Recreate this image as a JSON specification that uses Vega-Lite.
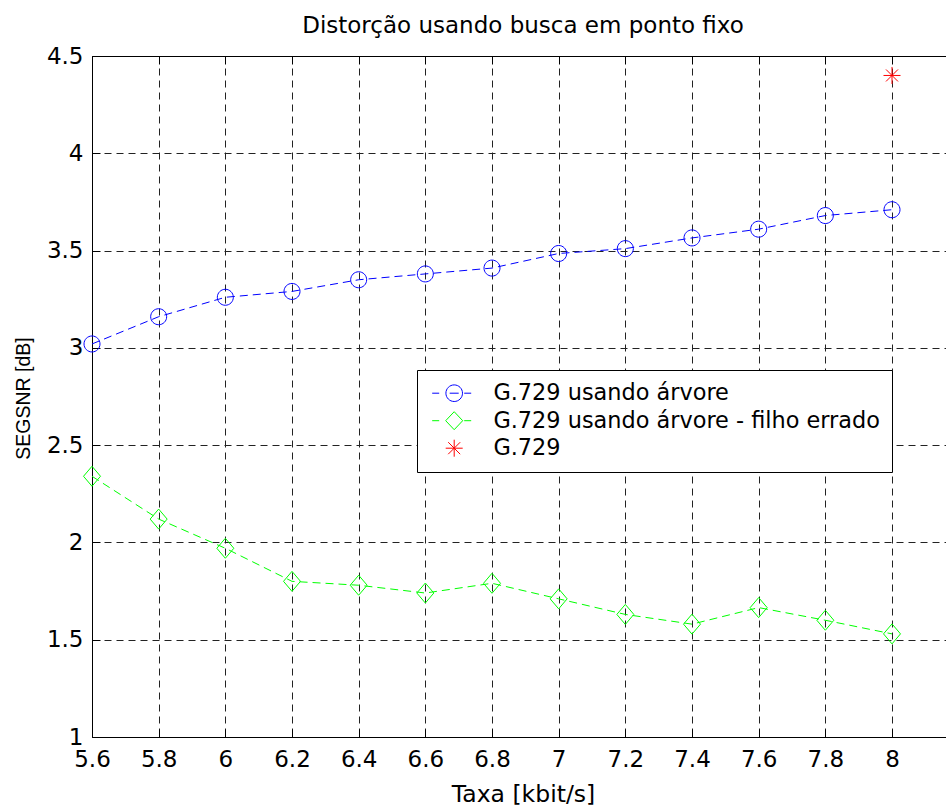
{
  "$schema": "https://vega.github.io/schema/vega-lite/v6.json",
  "width": 854,
  "height": 681,
  "autosize": {"type": "none"},
  "padding": {"left": 92, "top": 56, "right": 0, "bottom": 70},
  "background": "white",
  "config": {
    "view": {"stroke": null},
    "font": "DejaVu Sans"
  },
  "title": {
    "text": "Distorção usando busca em ponto fixo",
    "font": "DejaVu Sans",
    "fontSize": 23,
    "fontWeight": "normal",
    "color": "black",
    "baseline": "alphabetic",
    "offset": 23,
    "dx": 4,
    "dy": 34
  },
  "data": {
    "values": [
      {"x": 5.6, "y": 3.02, "series": "G.729 usando árvore"},
      {"x": 5.8, "y": 3.16, "series": "G.729 usando árvore"},
      {"x": 6.0, "y": 3.26, "series": "G.729 usando árvore"},
      {"x": 6.2, "y": 3.29, "series": "G.729 usando árvore"},
      {"x": 6.4, "y": 3.35, "series": "G.729 usando árvore"},
      {"x": 6.6, "y": 3.38, "series": "G.729 usando árvore"},
      {"x": 6.8, "y": 3.41, "series": "G.729 usando árvore"},
      {"x": 7.0, "y": 3.485, "series": "G.729 usando árvore"},
      {"x": 7.2, "y": 3.51, "series": "G.729 usando árvore"},
      {"x": 7.4, "y": 3.565, "series": "G.729 usando árvore"},
      {"x": 7.6, "y": 3.61, "series": "G.729 usando árvore"},
      {"x": 7.8, "y": 3.68, "series": "G.729 usando árvore"},
      {"x": 8.0, "y": 3.71, "series": "G.729 usando árvore"},
      {"x": 5.6, "y": 2.34, "series": "G.729 usando árvore - filho errado"},
      {"x": 5.8, "y": 2.12, "series": "G.729 usando árvore - filho errado"},
      {"x": 6.0, "y": 1.97, "series": "G.729 usando árvore - filho errado"},
      {"x": 6.2, "y": 1.8, "series": "G.729 usando árvore - filho errado"},
      {"x": 6.4, "y": 1.78, "series": "G.729 usando árvore - filho errado"},
      {"x": 6.6, "y": 1.74, "series": "G.729 usando árvore - filho errado"},
      {"x": 6.8, "y": 1.79, "series": "G.729 usando árvore - filho errado"},
      {"x": 7.0, "y": 1.71, "series": "G.729 usando árvore - filho errado"},
      {"x": 7.2, "y": 1.63, "series": "G.729 usando árvore - filho errado"},
      {"x": 7.4, "y": 1.58, "series": "G.729 usando árvore - filho errado"},
      {"x": 7.6, "y": 1.665, "series": "G.729 usando árvore - filho errado"},
      {"x": 7.8, "y": 1.6, "series": "G.729 usando árvore - filho errado"},
      {"x": 8.0, "y": 1.53, "series": "G.729 usando árvore - filho errado"},
      {"x": 8.0, "y": 4.4, "series": "G.729"}
    ]
  },
  "resolve": {"axis": {"x": "independent"}},
  "layer": [
    {
      "transform": [{"filter": "datum.series !== 'G.729'"}],
      "mark": {"type": "line", "strokeWidth": 1, "strokeDash": [8, 5]},
      "encoding": {
        "x": {
          "field": "x",
          "type": "quantitative",
          "scale": {"domain": [5.6, 8.162], "nice": false, "zero": false},
          "axis": {
            "orient": "bottom",
            "values": [5.6, 5.8, 6.0, 6.2, 6.4, 6.6, 6.8, 7.0, 7.2, 7.4, 7.6, 7.8, 8.0],
            "format": "~g",
            "grid": true,
            "gridDash": [7, 5],
            "gridColor": "#222222",
            "gridWidth": 1,
            "gridOpacity": 1,
            "domain": true,
            "domainColor": "black",
            "domainWidth": 1,
            "ticks": true,
            "tickSize": -8,
            "tickColor": "black",
            "tickWidth": 1,
            "labelFont": "DejaVu Sans",
            "labelFontSize": 23,
            "labelColor": "black",
            "labelPadding": 19,
            "labelFlush": false,
            "labelOverlap": false,
            "title": "Taxa [kbit/s]",
            "titleFont": "DejaVu Sans",
            "titleFontSize": 23.5,
            "titleFontWeight": "normal",
            "titleColor": "black",
            "titleAlign": "center",
            "titleBaseline": "alphabetic",
            "titleX": 431,
            "titleY": 64
          }
        },
        "y": {
          "field": "y",
          "type": "quantitative",
          "scale": {"domain": [1, 4.5], "nice": false, "zero": false},
          "axis": {
            "values": [1, 1.5, 2, 2.5, 3, 3.5, 4, 4.5],
            "format": "~g",
            "grid": true,
            "gridDash": [7, 5],
            "gridColor": "#222222",
            "gridWidth": 1,
            "gridOpacity": 1,
            "domain": true,
            "domainColor": "black",
            "domainWidth": 1,
            "ticks": true,
            "tickSize": -8,
            "tickColor": "black",
            "tickWidth": 1,
            "labelFont": "DejaVu Sans",
            "labelFontSize": 23,
            "labelColor": "black",
            "labelPadding": 17,
            "labelFlush": false,
            "labelOverlap": false,
            "title": "SEGSNR [dB]",
            "titleFont": "Liberation Sans",
            "titleFontSize": 19.5,
            "titleFontWeight": "normal",
            "titleColor": "black",
            "titleAngle": -90,
            "titleAlign": "center",
            "titleBaseline": "alphabetic",
            "titleX": -63,
            "titleY": 342
          }
        },
        "color": {
          "field": "series",
          "type": "nominal",
          "scale": {
            "domain": ["G.729 usando árvore", "G.729 usando árvore - filho errado", "G.729"],
            "range": ["#0000ff", "#00ff00", "#ff0000"]
          }
        }
      }
    },
    {
      "transform": [{"filter": "datum.series === 'G.729 usando árvore'"}],
      "mark": {
        "type": "point",
        "filled": false,
        "strokeWidth": 1,
        "size": 400,
        "opacity": 1,
        "shape": "M0.8,0A0.8,0.8,0,1,1,-0.8,0A0.8,0.8,0,1,1,0.8,0Z"
      },
      "encoding": {
        "x": {
          "field": "x",
          "type": "quantitative",
          "axis": {
            "orient": "top",
            "values": [5.6, 5.8, 6.0, 6.2, 6.4, 6.6, 6.8, 7.0, 7.2, 7.4, 7.6, 7.8, 8.0],
            "labels": false,
            "grid": false,
            "domain": true,
            "domainColor": "black",
            "domainWidth": 1,
            "ticks": true,
            "tickSize": -8,
            "tickColor": "black",
            "tickWidth": 1,
            "title": null
          }
        },
        "y": {"field": "y", "type": "quantitative"},
        "color": {"field": "series", "type": "nominal"}
      }
    },
    {
      "transform": [{"filter": "datum.series === 'G.729 usando árvore - filho errado'"}],
      "mark": {
        "type": "point",
        "filled": false,
        "strokeWidth": 1,
        "size": 400,
        "opacity": 1,
        "shape": "M0,-1L0.85,0L0,1L-0.85,0Z"
      },
      "encoding": {
        "x": {"field": "x", "type": "quantitative", "axis": null},
        "y": {"field": "y", "type": "quantitative"},
        "color": {"field": "series", "type": "nominal"}
      }
    },
    {
      "transform": [{"filter": "datum.series === 'G.729'"}],
      "mark": {
        "type": "point",
        "filled": false,
        "strokeWidth": 1,
        "size": 400,
        "opacity": 1,
        "shape": "M-0.85,0L0.85,0M0,-0.85L0,0.85M-0.6,-0.6L0.6,0.6M-0.6,0.6L0.6,-0.6"
      },
      "encoding": {
        "x": {"field": "x", "type": "quantitative", "axis": null},
        "y": {"field": "y", "type": "quantitative"},
        "color": {"field": "series", "type": "nominal"}
      }
    },
    {
      "transform": [{"filter": "false"}],
      "mark": {"type": "point", "filled": false, "strokeWidth": 1, "size": 400, "opacity": 1},
      "encoding": {
        "x": {"field": "x", "type": "quantitative", "axis": null},
        "y": {"field": "y", "type": "quantitative"},
        "color": {
          "field": "series",
          "type": "nominal",
          "legend": {
            "orient": "none",
            "legendX": 325,
            "legendY": 314,
            "title": null,
            "padding": 12,
            "strokeColor": "black",
            "fillColor": "white",
            "symbolSize": 400,
            "symbolStrokeWidth": 1,
            "symbolDash": [100, 0],
            "symbolOffset": 14,
            "labelOffset": 28,
            "labelFont": "DejaVu Sans",
            "labelFontSize": 22.4,
            "labelColor": "black",
            "labelLimit": 1000,
            "rowPadding": 4.5
          }
        },
        "shape": {
          "field": "series",
          "type": "nominal",
          "scale": {
            "domain": ["G.729 usando árvore", "G.729 usando árvore - filho errado", "G.729"],
            "range": [
              "M-2.2,0L-1.5,0M1.0,0L1.7,0M-0.45,0L0.45,0M0.83,0A0.83,0.83,0,1,1,-0.83,0A0.83,0.83,0,1,1,0.83,0Z",
              "M-2.2,0L-1.5,0M1.0,0L1.7,0M0,-0.9L0.85,0L0,0.9L-0.85,0Z",
              "M-0.85,0L0.85,0M0,-0.85L0,0.85M-0.6,-0.6L0.6,0.6M-0.6,0.6L0.6,-0.6"
            ]
          }
        }
      }
    }
  ]
}
